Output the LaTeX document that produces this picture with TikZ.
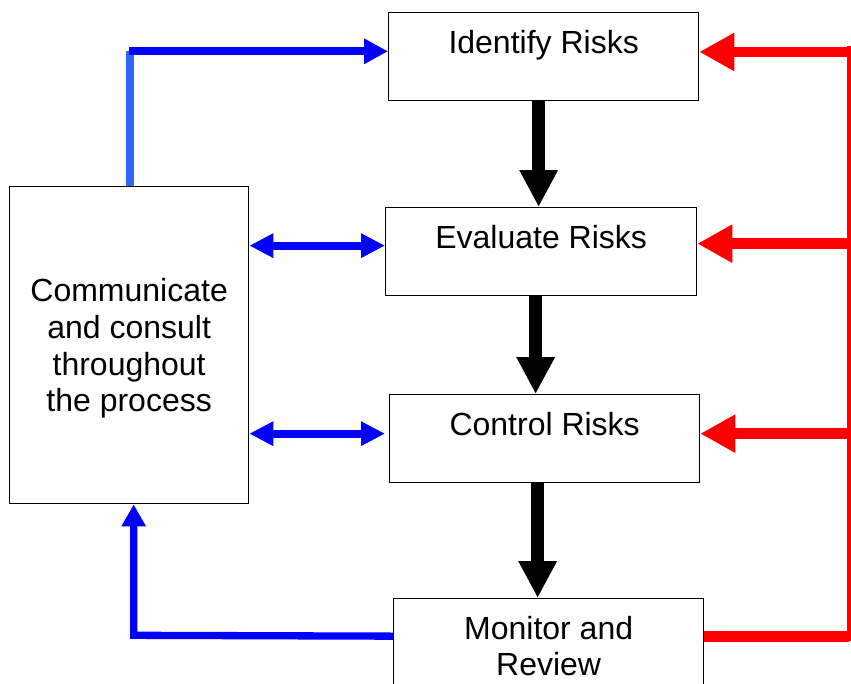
\documentclass[tikz,border=0pt]{standalone}
\usepackage{fontspec}
\setmainfont{Liberation Sans}
\usetikzlibrary{arrows.meta}
\definecolor{myblue}{HTML}{0000FF}
\definecolor{lightblu}{HTML}{3366FF}
\definecolor{myred}{HTML}{FF0000}
\tikzset{
 box/.style={draw=black, line width=1.3pt, fill=white, inner sep=0pt, anchor=north west, align=center, font=\fontsize{32}{36.8}\selectfont},
 onebox/.style={box, text height=41pt, text depth=47pt},
 blackarr/.style={line width=13pt, -{Triangle[length=37pt,width=36pt]}},
 redarr/.style={myred, line width=10.7pt, -{Triangle[length=35pt,width=36pt]}},
 redline/.style={myred, line width=5pt},
 bluearr/.style={myblue, line width=7.7pt, -{Triangle[length=24pt,width=24pt]}},
 bluedbl/.style={myblue, line width=8pt, {Triangle[length=24pt,width=23pt]}-{Triangle[length=24pt,width=23pt]}},
}
\begin{document}
\begin{tikzpicture}[x=1pt,y=-1pt]
\clip (0,0) rectangle (851,683);
\fill[white] (0,0) rectangle (851,683);
% boxes
\node[onebox, minimum width=310pt] (id) at (388,12) {Identify Risks};
\node[onebox, minimum width=311pt] (ev) at (385,207) {Evaluate Risks};
\node[onebox, minimum width=310pt] (ctl) at (389,394) {Control Risks};
\node[box, minimum width=310pt, minimum height=95pt] (mon) at (393,598) {Monitor and\\Review};
\node[box, minimum width=239pt, minimum height=317pt, text depth=0pt] (comm) at (9,186) {Communicate\\and consult\\throughout\\the process};
% helper coordinates
\coordinate (rt) at (849,46);
\coordinate (rb) at (849,640.5);
\coordinate (bc) at (130,51.3);
\coordinate (bb) at (133.7,635.3);
% black arrows
\draw[blackarr] ([xshift=-5pt]id.south) -- ([xshift=-5pt]id.south |- ev.north);
\draw[blackarr] ([xshift=-5.5pt]ev.south) -- ([xshift=-5.5pt]ev.south |- ctl.north);
\draw[blackarr] ([xshift=-7pt]ctl.south) -- ([xshift=-7pt]ctl.south |- mon.north);
% red feedback
\draw[redline] (rt) -- (rb);
\draw[redarr] ([yshift=4.7pt]id.east -| rt) -- ([yshift=4.7pt]id.east);
\draw[redarr] ([yshift=8pt]ev.east -| rt) -- ([yshift=8pt]ev.east);
\draw[redarr] ([yshift=5pt]ctl.east -| rt) -- ([yshift=5pt]ctl.east);
\draw[myred, line width=11pt] ([yshift=10pt]mon.east) -- ([yshift=10pt]mon.east -| rt);
% blue communication
\draw[lightblu, line width=8pt] (comm.north -| bc) -- (bc);
\draw[bluearr] ([xshift=-0.7pt]bc) -- (bc -| id.west);
\draw[bluedbl] ([yshift=6pt]ev.west -| comm.east) -- ([yshift=6pt]ev.west);
\draw[bluedbl] ([yshift=5pt]ctl.west -| comm.east) -- ([yshift=5pt,xshift=-4pt]ctl.west);
\draw[myblue, line width=7.3pt, -{Triangle[length=22pt,width=23pt]}] ([yshift=10pt]mon.west) -- (bb) -- (comm.south -| bb);
\end{tikzpicture}
\end{document}
